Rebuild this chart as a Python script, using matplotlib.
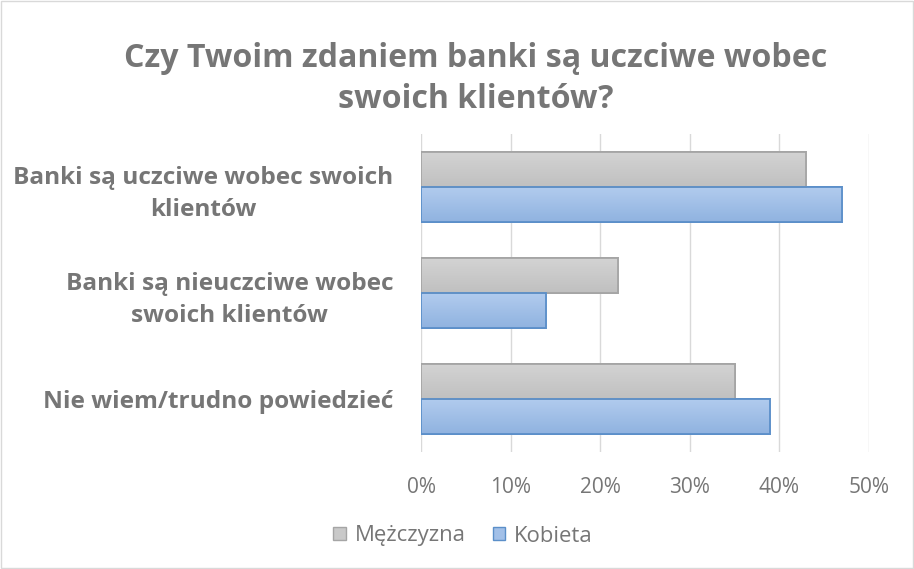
import matplotlib
matplotlib.use("Agg")
import matplotlib.pyplot as plt
import numpy as np
from matplotlib.colors import LinearSegmentedColormap
from matplotlib.patches import Patch, Rectangle

plt.rcParams['font.family'] = ['Open Sans', 'DejaVu Sans']

categories = ["Banki są uczciwe wobec swoich\nklientów",
              "Banki są nieuczciwe wobec\nswoich klientów",
              "Nie wiem/trudno powiedzieć"]
series_names = ["Mężczyzna", "Kobieta"]
men = [0.43, 0.22, 0.35]
women = [0.47, 0.14, 0.39]
xticks = [0, 0.1, 0.2, 0.3, 0.4, 0.5]
xtick_labels = ["0%", "10%", "20%", "30%", "40%", "50%"]
title = "Czy Twoim zdaniem banki są uczciwe wobec\nswoich klientów?"

TXT = "#767676"
W, H = 914, 569
fig = plt.figure(figsize=(W / 100, H / 100), dpi=100)
fig.patch.set_facecolor("white")
fig.add_artist(Rectangle((0.001, 0.001), 0.998, 0.997, transform=fig.transFigure,
                         fill=False, edgecolor="#d9d9d9", linewidth=1))

ax = fig.add_axes([421 / W, 1 - 452 / H, (869 - 421) / W, (452 - 134) / H])

y = np.arange(len(categories))
bh = 0.33
grey_edge = "#a5a5a5"
blue_edge = "#5b8fc9"
grey_cmap = LinearSegmentedColormap.from_list("g", ["#d3d3d3", "#c0c0c0"])
blue_cmap = LinearSegmentedColormap.from_list("b", ["#b1cbee", "#90b3e0"])

bars_m = ax.barh(y - bh / 2, men, height=bh, color="#c9c9c9", edgecolor=grey_edge, linewidth=1.3, zorder=3)
bars_w = ax.barh(y + bh / 2, women, height=bh, color="#a2c0e8", edgecolor=blue_edge, linewidth=1.3, zorder=3)

grad = np.linspace(0, 1, 64).reshape(-1, 1)
for bars, cmap in ((bars_m, grey_cmap), (bars_w, blue_cmap)):
    for b in bars:
        x0, y0 = b.get_x(), b.get_y()
        w, h = b.get_width(), b.get_height()
        im = ax.imshow(grad, cmap=cmap, extent=(x0, x0 + w, y0 + h, y0),
                       aspect="auto", zorder=3.5, interpolation="bilinear")
        im.set_clip_path(b)
        ax.add_patch(Rectangle((x0, y0), w, h, fill=False, edgecolor=b.get_edgecolor(),
                               linewidth=1.3, zorder=4))

ax.set_xlim(0, 0.5)
ax.set_ylim(len(categories) - 0.5, -0.5)
ax.set_xticks(xticks)
ax.set_xticklabels(xtick_labels, color=TXT, fontsize=15)
ax.set_yticks(y)
ax.set_yticklabels(categories, color=TXT, fontsize=17.6, fontweight="bold",
                   linespacing=1.45, ha="right", multialignment="center")
ax.tick_params(axis="both", length=0)
ax.tick_params(axis="x", pad=18)
ax.tick_params(axis="y", pad=20)
ax.grid(axis="x", color="#d9d9d9", linewidth=1, zorder=0)
ax.set_axisbelow(True)
for s in ax.spines.values():
    s.set_visible(False)
ax.set_facecolor("white")

fig.text(476 / W, 1 - 79 / H, title, ha="center", va="center", fontsize=23.1,
         fontweight="bold", color=TXT, linespacing=1.35)

handles = [Patch(facecolor="#c9c9c9", edgecolor=grey_edge, label=series_names[0]),
           Patch(facecolor="#a2c0e8", edgecolor=blue_edge, label=series_names[1])]
leg = fig.legend(handles=handles, loc="center", bbox_to_anchor=(463 / W, 1 - 536 / H),
                 ncol=2, frameon=False, fontsize=15.9, handlelength=0.55, handleheight=0.55,
                 handletextpad=0.4, columnspacing=1.25)
for t in leg.get_texts():
    t.set_color(TXT)

fig.savefig("out.png", dpi=100, facecolor="white")
